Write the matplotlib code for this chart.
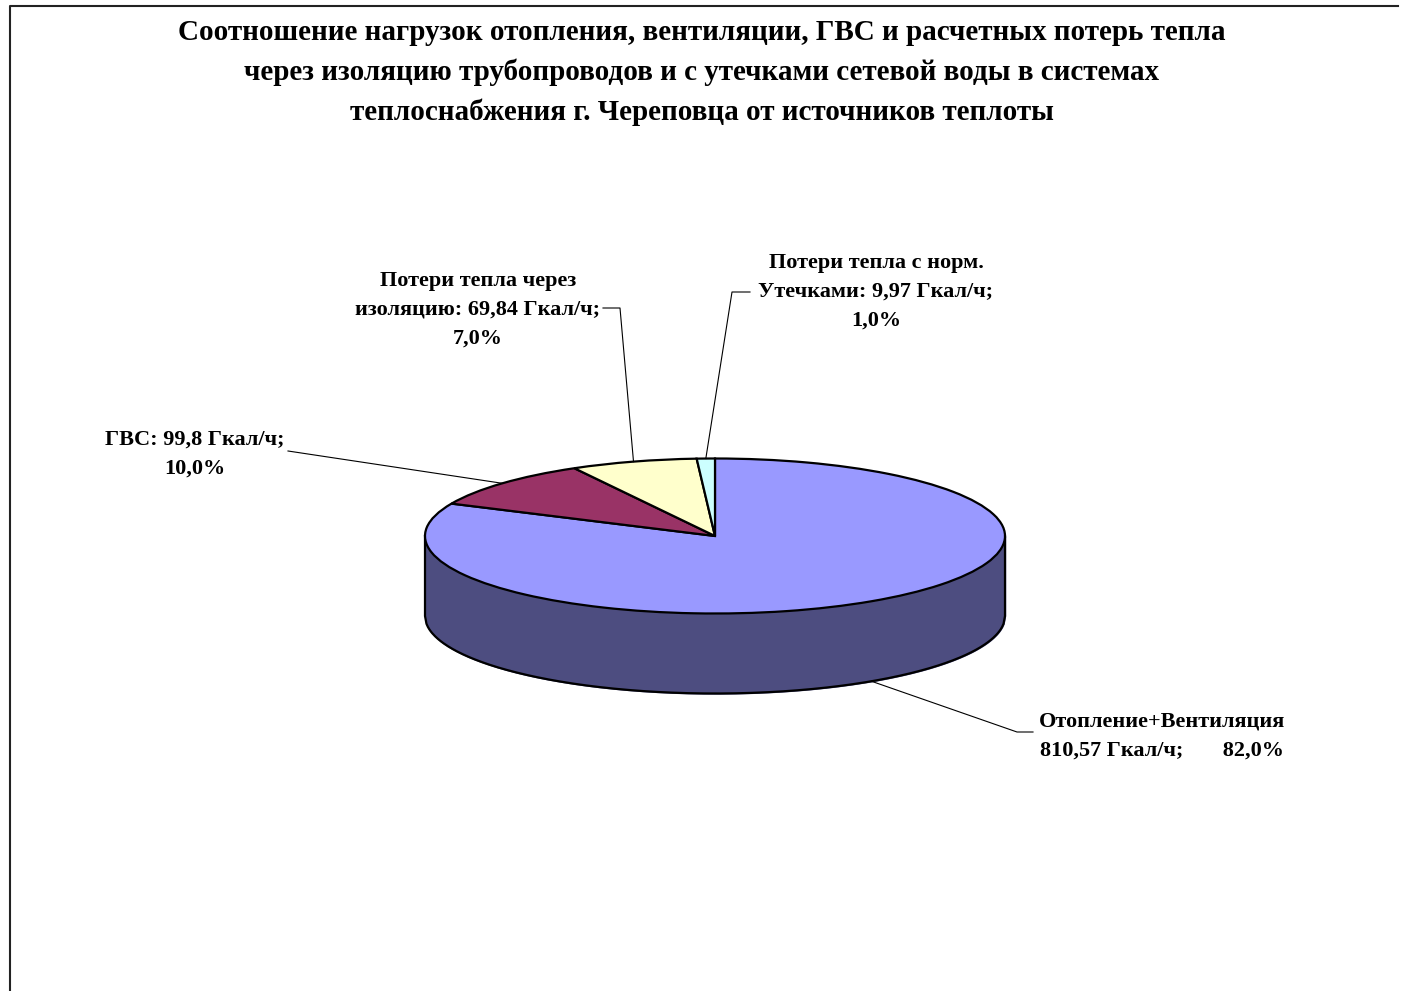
import numpy as np
import matplotlib
matplotlib.use('Agg')
import matplotlib.pyplot as plt

plt.rcParams['font.family'] = ['Liberation Serif', 'DejaVu Serif']
plt.rcParams['font.weight'] = 'bold'

title = ('Соотношение нагрузок отопления, вентиляции, ГВС и расчетных потерь тепла\n'
         'через изоляцию трубопроводов и с утечками сетевой воды в системах\n'
         'теплоснабжения г. Череповца от источников теплоты')

values = [810.57, 99.8, 69.84, 9.97]
colors = ['#9999FF', '#993366', '#FFFFCC', '#CCFFFF']
labels = ['Отопление+Вентиляция\n810,57 Гкал/ч;       82,0%',
          'ГВС: 99,8 Гкал/ч;\n10,0%',
          'Потери тепла через\nизоляцию: 69,84 Гкал/ч;\n7,0%',
          'Потери тепла с норм.\nУтечками: 9,97 Гкал/ч;\n1,0%']

W, H = 1409, 991
cx, cy = 715, 536     # pie centre, px
rx, ry = 290, 77.5    # pie radii, px
depth = 80 / ry


def fx(px):
    return (px - cx) / rx


def fy(py):
    return (cy - py) / ry


fig = plt.figure(figsize=(W / 100, H / 100), dpi=100)
ax = fig.add_axes([0, 0, 1, 1])

wedges, _ = ax.pie(values, colors=colors, startangle=90, counterclock=False,
                   wedgeprops=dict(edgecolor='black', linewidth=1.6, zorder=3))
ax.set_aspect('auto')
ax.set_xlim(fx(0), fx(W))
ax.set_ylim(fy(H), fy(0))
ax.set_axis_off()

# side wall of the "3d" pie
xs = np.linspace(-1, 1, 400)
ys = -np.sqrt(1 - xs ** 2)
ax.fill_between(xs, ys, ys - depth, color='#4D4D80', zorder=1)
ax.plot(np.r_[-1, xs, 1], np.r_[0, ys - depth, 0], color='black', lw=1.6, zorder=2)

# outer frame, right and bottom edges are cut off
ax.plot([fx(10), fx(10), fx(1398)], [fy(H), fy(6), fy(6)], color='#222222', lw=1.5, zorder=1)

fig.text(702 / W, 1 - 19 / H, title, ha='center', va='top', fontsize=21,
         fontweight='bold', linespacing=1.58)


def rim(w, drop=0.0):
    a = np.deg2rad((w.theta1 + w.theta2) / 2)
    return np.cos(a), np.sin(a) - drop


# leader lines, label end is given in px
leaders = [([(1017, 732), (1033, 732)], depth),
           ([(288, 451)], 0),
           ([(620, 308), (603, 308)], 0),
           ([(732, 292), (750, 292)], 0)]
for w, (pts, drop) in zip(wedges, leaders):
    x0, y0 = rim(w, drop)
    ax.plot([x0] + [fx(p[0]) for p in pts], [y0] + [fy(p[1]) for p in pts],
            color='black', lw=0.8, zorder=4)

label_pos = [(1162, 736), (195, 454), (478, 310), (876, 292)]
for lab, (lx, ly) in zip(labels, label_pos):
    ax.text(fx(lx), fy(ly), lab, ha='center', va='center', fontsize=16,
            fontweight='bold', linespacing=1.58, zorder=5)

fig.savefig('out.png', dpi=100)
